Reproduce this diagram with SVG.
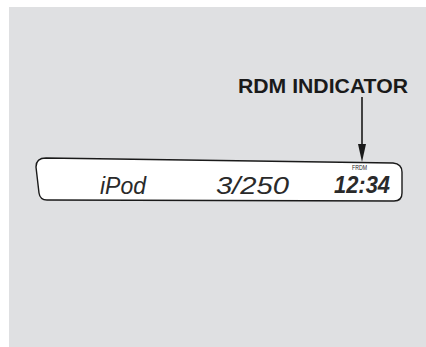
<svg xmlns="http://www.w3.org/2000/svg" width="426" height="347" viewBox="0 0 426 347">
<style>
.lcd{font-family:"Liberation Sans",Arial,sans-serif;font-style:italic;fill:#2a2a2a}
.lbl{font-family:"Liberation Sans",Arial,sans-serif;font-weight:bold;fill:#1a1a1a}
</style>
<rect x="0" y="0" width="426" height="347" fill="#ffffff"/>
<rect x="9" y="7" width="417" height="340" fill="#dfe0e2"/>
<g id="display">
<path d="M46,158 L393,163 Q402,164 402,172 L402,193 Q402,201 394,201 L47,200 Q40,200 39,193 L36,167 Q36,158 46,158 Z" fill="#ffffff" stroke="#1a1a1a" stroke-width="1.4"/>
<text class="lcd" x="100" y="194" font-size="24" textLength="46" lengthAdjust="spacingAndGlyphs">iPod</text>
<text class="lcd" x="216" y="194" font-size="24" textLength="73" lengthAdjust="spacingAndGlyphs">3/250</text>
<text class="lcd" x="334" y="193" font-size="24" font-weight="bold" textLength="56" lengthAdjust="spacingAndGlyphs">12:34</text>
<text x="352" y="170" font-size="7.5" font-family="Liberation Sans, Arial, sans-serif" fill="#1a1a1a" textLength="15" lengthAdjust="spacingAndGlyphs">FRDM</text>
</g>
<g id="label">
<text class="lbl" x="238" y="93" font-size="21" textLength="170" lengthAdjust="spacingAndGlyphs">RDM INDICATOR</text>
</g>
<g id="connectors">
<line x1="362" y1="97" x2="362" y2="146" stroke="#1a1a1a" stroke-width="1.6"/>
<polygon points="358,144 366,144 362,162" fill="#1a1a1a"/>
</g>
</svg>
